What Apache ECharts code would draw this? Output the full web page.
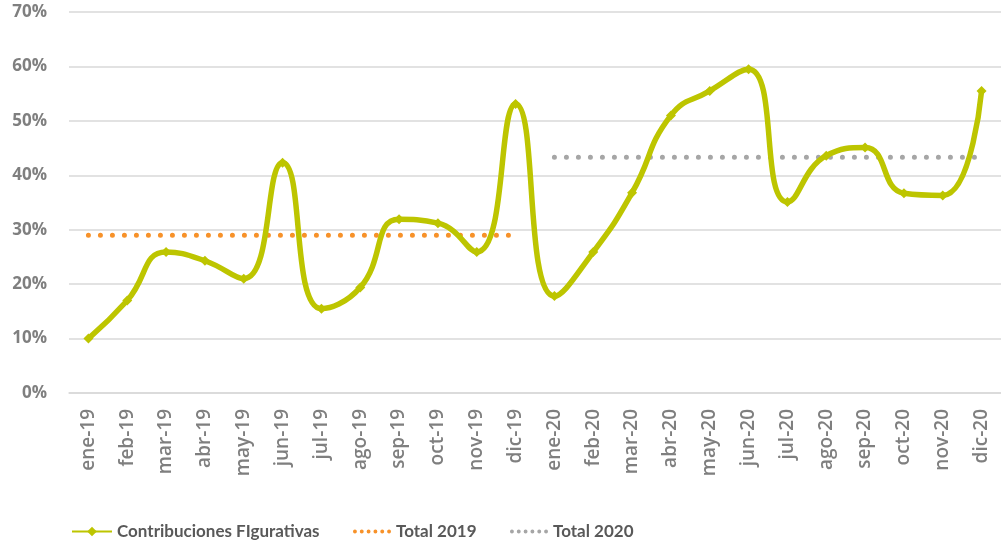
<!DOCTYPE html>
<html>
<head>
<meta charset="utf-8">
<script src="https://cdn.jsdelivr.net/npm/echarts@6/dist/echarts.min.js"></script>
<style>
  html, body { margin: 0; padding: 0; background: #fff; }
  #chart { width: 1001px; height: 547px; }
</style>
</head>
<body>
<div id="chart"></div>
<script>
// meses
const categories = [
  'ene-19', 'feb-19', 'mar-19', 'abr-19', 'may-19', 'jun-19', 'jul-19', 'ago-19', 'sep-19', 'oct-19', 'nov-19', 'dic-19',
  'ene-20', 'feb-20', 'mar-20', 'abr-20', 'may-20', 'jun-20', 'jul-20', 'ago-20', 'sep-20', 'oct-20', 'nov-20', 'dic-20'
];
// % contribuciones figurativas
const contribuciones = [
  10.0, 17.0, 25.9, 24.3, 21.0, 42.3, 15.5, 19.4, 31.9, 31.2, 25.9, 53.1,
  17.8, 25.9, 36.8, 51.0, 55.5, 59.5, 35.1, 43.6, 45.1, 36.7, 36.3, 55.5
];
const total2019 = 29.0;
const total2020 = 43.3;
const yTicks = [0, 10, 20, 30, 40, 50, 60, 70];

const total2019Data = categories.map((c, i) => (i < 12 ? total2019 : null));
const total2020Data = categories.map((c, i) => (i >= 12 ? total2020 : null));

// icono de leyenda punteado (6 puntos)
function dotsIcon() {
  let p = 'path://';
  for (let k = 0; k < 6; k++) {
    const cx = 2 + k * 7;
    p += 'M' + (cx - 2) + ' 2 a2 2 0 1 0 4 0 a2 2 0 1 0 -4 0 Z ';
  }
  return p;
}

const chart = echarts.init(document.getElementById('chart'));

const legendText = {
  fontFamily: 'Lato',
  fontWeight: 'bold',
  fontSize: 17,
  color: '#595959'
};

const option = {
  animation: false,
  grid: { left: 69, right: 0, top: 12, bottom: 154, containLabel: false },
  legend: [
    {
      data: ['Contribuciones FIgurativas'],
      left: 66, top: 518,
      itemWidth: 40, itemHeight: 12,
      itemGap: 6,
      textStyle: legendText
    },
    {
      data: [{ name: 'Total 2019', icon: dotsIcon() }],
      left: 348, top: 518,
      itemWidth: 38, itemHeight: 5,
      textStyle: legendText
    },
    {
      data: [{ name: 'Total 2020', icon: dotsIcon() }],
      left: 505, top: 518,
      itemWidth: 38, itemHeight: 5,
      textStyle: legendText
    }
  ],
  xAxis: {
    type: 'category',
    data: categories,
    boundaryGap: true,
    axisLine: { show: true, lineStyle: { color: '#d9d9d9', width: 1.5 } },
    axisTick: { show: false },
    axisLabel: {
      interval: 0,
      rotate: 90,
      margin: 16,
      color: '#7f7f7f',
      fontFamily: 'Open Sans',
      fontWeight: 600,
      fontSize: 19
    }
  },
  yAxis: {
    type: 'value',
    min: yTicks[0],
    max: yTicks[yTicks.length - 1],
    interval: 10,
    axisLine: { show: false },
    axisTick: { show: false },
    axisLabel: {
      margin: 22,
      color: '#7f7f7f',
      fontFamily: 'Open Sans',
      fontWeight: 'bold',
      fontSize: 17,
      formatter: v => v + '%'
    },
    splitLine: { lineStyle: { color: '#d9d9d9', width: 1.5 } }
  },
  series: [
    {
      name: 'Contribuciones FIgurativas',
      type: 'line',
      data: contribuciones,
      smooth: 0.5,
      symbol: 'diamond',
      symbolSize: 10,
      itemStyle: { color: '#bdc500' },
      lineStyle: { color: '#bdc500', width: 5.5 },
      z: 3
    },
    {
      name: 'Total 2019',
      type: 'line',
      data: total2019Data,
      symbol: 'none',
      itemStyle: { color: '#f7922a' },
      lineStyle: { color: '#f7922a', width: 5, type: [0, 12], cap: 'round' },
      z: 2
    },
    {
      name: 'Total 2020',
      type: 'line',
      data: total2020Data,
      symbol: 'none',
      itemStyle: { color: '#a6a6a6' },
      lineStyle: { color: '#a6a6a6', width: 5, type: [0, 12], cap: 'round' },
      z: 2
    }
  ]
};

chart.setOption(option);
</script>
</body>
</html>
